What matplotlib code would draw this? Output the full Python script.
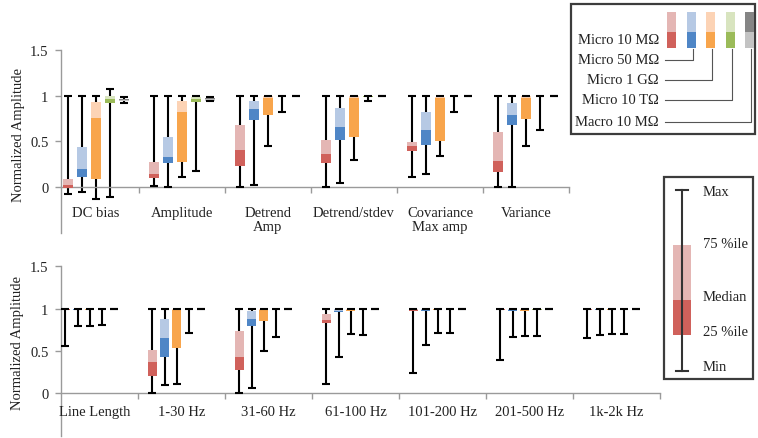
import matplotlib
matplotlib.use('Agg')
import matplotlib.pyplot as plt
from matplotlib.patches import Rectangle
from matplotlib.lines import Line2D
import numpy as np

plt.rcParams['font.family'] = ['Liberation Serif', 'DejaVu Serif']

# ---------------- data ----------------
SERIES = ['Micro 10 MΩ', 'Micro 50 MΩ', 'Micro 1 GΩ', 'Micro 10 TΩ', 'Macro 10 MΩ']
LOWER_COLORS = ['#d0615b', '#4f86c6', '#f8a54c', '#9bbb59', '#c3c3c3']
UPPER_COLORS = ['#e4b6b4', '#b6c9e4', '#fcd3b5', '#d8e4bf', '#858585']

TOP_CATS = ['DC bias', 'Amplitude', 'Detrend\nAmp', 'Detrend/stdev', 'Covariance\nMax amp', 'Variance']
TOP_MIN = [[-0.07, 0.01, 0.0, 0.0, 0.115, 0.0],
           [-0.055, 0.0, 0.025, 0.045, 0.145, 0.0],
           [-0.13, 0.115, 0.445, 0.30, 0.335, 0.445],
           [-0.11, 0.175, 0.825, 0.945, 0.825, 0.62],
           [0.915, 0.94, 0.99, 0.99, 0.99, 0.99]]
TOP_Q1 = [[-0.01, 0.105, 0.235, 0.26, 0.39, 0.165],
          [0.11, 0.26, 0.735, 0.52, 0.46, 0.675],
          [0.09, 0.28, 0.79, 0.55, 0.50, 0.74],
          [0.92, 0.93, 0.99, 0.985, 0.99, 0.99],
          [0.935, 0.945, 0.995, 0.995, 0.995, 0.995]]
TOP_MED = [[0.02, 0.145, 0.41, 0.36, 0.45, 0.29],
           [0.20, 0.33, 0.85, 0.66, 0.62, 0.79],
           [0.76, 0.82, 0.97, 0.975, 0.97, 0.975],
           [0.965, 0.96, 0.995, 0.99, 0.995, 0.995],
           [0.95, 0.958, 0.998, 0.998, 0.998, 0.998]]
TOP_Q3 = [[0.09, 0.27, 0.68, 0.52, 0.49, 0.60],
          [0.44, 0.55, 0.94, 0.865, 0.82, 0.915],
          [0.93, 0.945, 0.99, 0.99, 0.985, 0.99],
          [0.99, 0.985, 1.0, 0.995, 1.0, 1.0],
          [0.965, 0.97, 1.0, 1.0, 1.0, 1.0]]
TOP_MAX = [[1, 1, 1, 1, 1, 1],
           [1, 1, 1, 1, 1, 1],
           [1, 1, 1, 1, 1, 1],
           [1.07, 1, 1, 1, 1, 1],
           [0.98, 0.98, 1, 1, 1, 1]]

BOT_CATS = ['Line Length', '1-30 Hz', '31-60 Hz', '61-100 Hz', '101-200 Hz', '201-500 Hz', '1k-2k Hz']
BOT_MIN = [[0.557, 0.0, 0.0, 0.11, 0.237, 0.387, 0.656],
           [0.795, 0.10, 0.063, 0.427, 0.565, 0.664, 0.684],
           [0.795, 0.11, 0.494, 0.696, 0.715, 0.672, 0.696],
           [0.81, 0.71, 0.67, 0.684, 0.708, 0.672, 0.704],
           [0.99, 0.99, 0.99, 0.99, 0.99, 0.99, 0.99]]
BOT_Q1 = [[0.985, 0.20, 0.27, 0.83, 0.97, 0.98, 0.985],
          [0.98, 0.43, 0.79, 0.955, 0.975, 0.97, 0.98],
          [0.985, 0.54, 0.855, 0.97, 0.985, 0.975, 0.985],
          [0.99, 0.99, 0.99, 0.99, 0.99, 0.985, 0.99],
          [0.995, 0.995, 0.995, 0.995, 0.995, 0.995, 0.995]]
BOT_MED = [[0.99, 0.37, 0.43, 0.86, 0.98, 0.99, 0.99],
           [0.99, 0.65, 0.88, 0.975, 0.985, 0.985, 0.99],
           [0.99, 0.98, 0.985, 0.985, 0.99, 0.985, 0.99],
           [0.995, 0.995, 0.995, 0.995, 0.995, 0.995, 0.995],
           [0.998, 0.998, 0.998, 0.998, 0.998, 0.998, 0.998]]
BOT_Q3 = [[0.995, 0.51, 0.74, 0.94, 0.995, 0.995, 0.995],
          [0.995, 0.88, 0.97, 0.99, 0.995, 0.99, 0.995],
          [0.995, 0.99, 0.995, 0.99, 0.995, 0.99, 0.995],
          [1.0, 1.0, 1.0, 1.0, 1.0, 1.0, 1.0],
          [1.0, 1.0, 1.0, 1.0, 1.0, 1.0, 1.0]]
BOT_MAX = [[1, 1, 1, 0.99, 1, 1, 0.99],
           [1, 1, 1, 1, 1, 1, 1],
           [1, 1, 1, 1, 1, 1, 1],
           [1, 1, 1, 1, 1, 1, 1],
           [1, 1, 1, 1, 1, 1, 1]]

YTICKS = [0, 0.5, 1, 1.5]
YTICK_LABELS = ['0', '0.5', '1', '1.5']
KEY_LABELS = ['Max', '75 %ile', 'Median', '25 %ile', 'Min']

# ---------------- figure ----------------
W, H = 758, 439
fig = plt.figure(figsize=(W / 100, H / 100), dpi=100)

AXIS_GRAY = '#9a9a9a'
FS = 10.5


def px_axes(left, top, right, bottom):
    return fig.add_axes([left / W, 1 - bottom / H, (right - left) / W, (bottom - top) / H])


def draw_panel(ax, cats, mins, q1s, meds, q3s, maxs, xlim, spacing, width, cap, shift, label_y, ylab_xy):
    x = np.arange(len(cats))
    for s in range(len(SERIES)):
        xs = x + shift + (s - 2) * spacing
        lo = np.array(mins[s]); hi = np.array(maxs[s])
        q1 = np.array(q1s[s]); md = np.array(meds[s]); q3 = np.array(q3s[s])
        ax.vlines(xs, lo, hi, color='black', lw=1.5, zorder=2)
        ax.hlines(lo, xs - cap / 2, xs + cap / 2, color='black', lw=1.5, zorder=4)
        ax.hlines(hi, xs - cap / 2, xs + cap / 2, color='black', lw=1.5, zorder=4)
        ax.bar(xs, md - q1, bottom=q1, width=width, color=LOWER_COLORS[s], zorder=3, linewidth=0)
        ax.bar(xs, q3 - md, bottom=md, width=width, color=UPPER_COLORS[s], zorder=3, linewidth=0)
    ax.set_xlim(*xlim)
    ax.set_ylim(-0.5, 1.5)
    for sp in ['top', 'right']:
        ax.spines[sp].set_visible(False)
    ax.spines['bottom'].set_position(('data', 0))
    ax.spines['bottom'].set_color(AXIS_GRAY)
    ax.spines['left'].set_color(AXIS_GRAY)
    ax.spines['bottom'].set_linewidth(1.0)
    ax.spines['left'].set_linewidth(1.0)
    ax.set_xticks(x + 0.5)
    ax.set_xticklabels([])
    ax.set_yticks(YTICKS)
    ax.set_yticklabels(YTICK_LABELS)
    ax.tick_params(axis='both', direction='out', length=4, color=AXIS_GRAY, width=1.0,
                   labelsize=FS, labelcolor='#222222')
    ax.tick_params(axis='y', pad=5)
    ax.patch.set_alpha(0)
    for i, c in enumerate(cats):
        ax.text(i, label_y, c, ha='center', va='top', fontsize=FS, color='#222222', linespacing=1.15)
    ax.set_ylabel('Normalized Amplitude', fontsize=FS, color='#222222')
    ax.yaxis.set_label_coords(*ylab_xy)


ax1 = px_axes(61, 50.7, 569, 234)
draw_panel(ax1, TOP_CATS, TOP_MIN, TOP_Q1, TOP_MED, TOP_Q3, TOP_MAX,
           xlim=(-0.407, 5.5), spacing=0.162, width=0.108, cap=0.093, shift=0.0,
           label_y=-0.2, ylab_xy=(-0.071, 0.54))

ax2 = px_axes(61, 267.3, 660, 436.5)
draw_panel(ax2, BOT_CATS, BOT_MIN, BOT_Q1, BOT_MED, BOT_Q3, BOT_MAX,
           xlim=(-0.385, 6.5), spacing=0.14, width=0.107, cap=0.092, shift=-0.055,
           label_y=-0.145, ylab_xy=(-0.062, 0.553))

# ---------------- legends (pixel overlay) ----------------
ov = fig.add_axes([0, 0, 1, 1])
ov.set_xlim(0, W)
ov.set_ylim(H, 0)
ov.axis('off')
ov.patch.set_alpha(0)

BOX_EDGE = '#3c3c3c'
# legend 1: series colours
ov.add_patch(Rectangle((571, 5), 184, 130, fill=False, edgecolor=BOX_EDGE, lw=1.6))
sw_x = [667, 686.5, 706, 726, 745]
label_y = [40, 60.5, 80.5, 100.5, 123]
line_x = [None, 692.5, 712, 732, 751]
for s, name in enumerate(SERIES):
    ov.add_patch(Rectangle((sw_x[s], 12.7), 9.3, 20, color=UPPER_COLORS[s], lw=0))
    ov.add_patch(Rectangle((sw_x[s], 32.7), 9.3, 16.6, color=LOWER_COLORS[s], lw=0))
    ov.text(659, label_y[s], name, ha='right', va='center', fontsize=FS, color='#222222')
    if line_x[s] is not None:
        ov.add_line(Line2D([665, line_x[s], line_x[s]], [label_y[s], label_y[s], 49.5],
                           color='#555555', lw=0.8))

# legend 2: box-plot key
ov.add_patch(Rectangle((664.3, 178.3), 89, 201.7, fill=False, edgecolor=BOX_EDGE, lw=1.6))
ov.add_line(Line2D([681.7, 681.7], [191, 371.7], color='#333333', lw=1.5))
ov.add_line(Line2D([676, 687.5], [191, 191], color='#333333', lw=1.5))
ov.add_line(Line2D([676, 687.5], [371.7, 371.7], color='#333333', lw=1.5))
ov.add_patch(Rectangle((673.3, 246), 17.7, 54.7, color=UPPER_COLORS[0], lw=0))
ov.add_patch(Rectangle((673.3, 300.7), 17.7, 35.3, color=LOWER_COLORS[0], lw=0))
for lab, yy in zip(KEY_LABELS, [192.3, 245, 297.7, 332.7, 367.3]):
    ov.text(702.7, yy, lab, ha='left', va='center', fontsize=FS, color='#222222')

fig.savefig('out.png', dpi=100)
